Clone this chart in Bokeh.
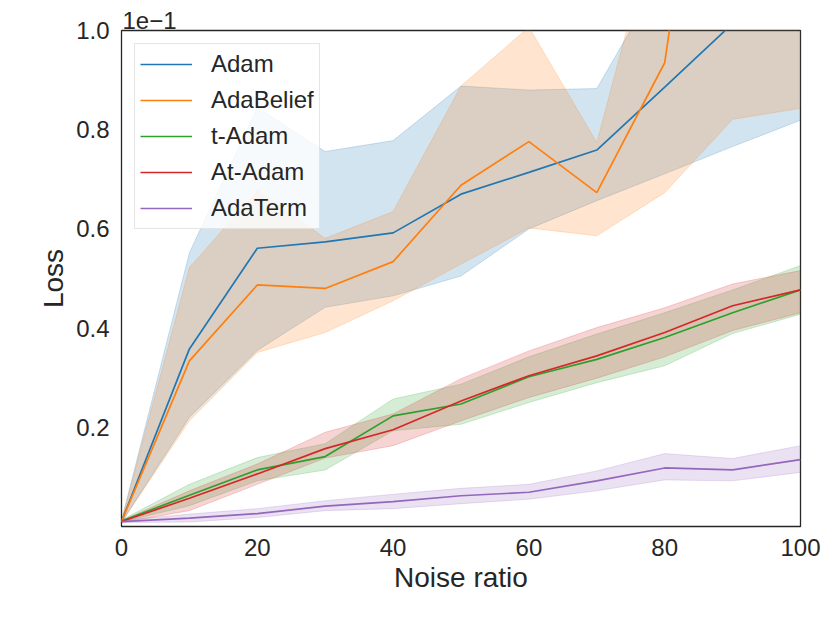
from bokeh.plotting import figure
from bokeh.models import Range1d, FixedTicker, Legend, LegendItem
from bokeh.embed import file_html
from bokeh.resources import INLINE

x = [0, 10, 20, 30, 40, 50, 60, 70, 80, 90, 100]

adam_mean = [0.010, 0.358, 0.561, 0.574, 0.592, 0.670, 0.714, 0.759, 0.886, 1.014, 1.12]
adam_up = [0.012, 0.552, 0.845, 0.756, 0.778, 0.888, 0.880, 0.883, 1.12, 1.25, 1.35]
adam_lo = [0.008, 0.220, 0.355, 0.442, 0.465, 0.505, 0.600, 0.657, 0.711, 0.766, 0.819]

adab_mean = [0.010, 0.334, 0.487, 0.480, 0.534, 0.688, 0.776, 0.673, 0.935, 1.87, 1.75]
adab_up = [0.012, 0.522, 0.677, 0.581, 0.635, 0.888, 1.007, 0.774, 1.29, 2.9, 2.6]
adab_lo = [0.008, 0.213, 0.351, 0.391, 0.455, 0.529, 0.602, 0.586, 0.673, 0.821, 0.843]

tadam_mean = [0.011, 0.063, 0.114, 0.141, 0.223, 0.247, 0.302, 0.337, 0.381, 0.431, 0.477]
tadam_up = [0.013, 0.085, 0.139, 0.167, 0.257, 0.287, 0.342, 0.388, 0.431, 0.477, 0.526]
tadam_lo = [0.009, 0.042, 0.092, 0.114, 0.193, 0.206, 0.250, 0.290, 0.324, 0.389, 0.428]

atadam_mean = [0.010, 0.057, 0.106, 0.157, 0.195, 0.253, 0.304, 0.344, 0.391, 0.445, 0.477]
atadam_up = [0.012, 0.072, 0.126, 0.190, 0.227, 0.298, 0.354, 0.401, 0.441, 0.489, 0.516]
atadam_lo = [0.008, 0.032, 0.085, 0.138, 0.163, 0.213, 0.260, 0.299, 0.342, 0.395, 0.431]

adaterm_mean = [0.010, 0.017, 0.026, 0.041, 0.050, 0.062, 0.069, 0.092, 0.118, 0.114, 0.135]
adaterm_up = [0.012, 0.025, 0.036, 0.052, 0.065, 0.077, 0.085, 0.112, 0.147, 0.137, 0.163]
adaterm_lo = [0.008, 0.009, 0.018, 0.032, 0.036, 0.046, 0.055, 0.072, 0.094, 0.092, 0.109]

names = ["Adam", "AdaBelief", "t-Adam", "At-Adam", "AdaTerm"]
colors = ["#1f77b4", "#ff7f0e", "#2ca02c", "#d62728", "#9467bd"]
series = [
    (adam_mean, adam_up, adam_lo),
    (adab_mean, adab_up, adab_lo),
    (tadam_mean, tadam_up, tadam_lo),
    (atadam_mean, atadam_up, atadam_lo),
    (adaterm_mean, adaterm_up, adaterm_lo),
]
y_ticks = [0.2, 0.4, 0.6, 0.8, 1.0]
x_ticks = [0, 20, 40, 60, 80, 100]

FONT = "Liberation Sans"
TXT = "#262626"

p = figure(width=822, height=615, output_backend="svg", toolbar_location=None,
           x_range=Range1d(0, 100), y_range=Range1d(0, 1.0),
           min_border_left=121, min_border_right=22, min_border_top=30,
           min_border_bottom=89, title="1e\u22121")
p.title.text_font = FONT
p.title.text_font_size = "24px"
p.title.text_font_style = "normal"
p.title.text_color = TXT
p.title.align = "left"
p.title.offset = 1
p.title.standoff = 4
p.grid.visible = False
p.outline_line_color = TXT
p.outline_line_width = 1.3
p.background_fill_color = "white"

for col, (m, up, lo) in zip(colors, series):
    p.varea(x=x, y1=lo, y2=up, fill_color=col, fill_alpha=0.2)
    p.line(x, up, line_color=col, line_alpha=0.2, line_width=1)
    p.line(x, lo, line_color=col, line_alpha=0.2, line_width=1)

items = []
for name, col, (m, up, lo) in zip(names, colors, series):
    r = p.line(x, m, line_color=col, line_width=1.7)
    items.append(LegendItem(label=name, renderers=[r]))

legend = Legend(items=items, location="top_left", margin=13, padding=5,
                spacing=6, glyph_width=52, glyph_height=30, label_height=30,
                label_standoff=19, label_text_font=FONT,
                label_text_font_size="24px", label_text_color=TXT,
                background_fill_color="white", background_fill_alpha=0.8,
                border_line_color="#cccccc", border_line_width=1)
p.add_layout(legend)

for ax in (p.xaxis, p.yaxis):
    ax.axis_line_color = None
    ax.major_tick_line_color = None
    ax.minor_tick_line_color = None
    ax.major_tick_out = 0
    ax.major_tick_in = 0
    ax.major_label_text_font = FONT
    ax.major_label_text_font_size = "24px"
    ax.major_label_text_color = TXT
    ax.axis_label_text_font = FONT
    ax.axis_label_text_font_size = "28px"
    ax.axis_label_text_color = TXT
    ax.axis_label_text_font_style = "normal"

p.xaxis.ticker = FixedTicker(ticks=x_ticks)
p.yaxis.ticker = FixedTicker(ticks=y_ticks)
p.yaxis.major_label_overrides = {v: f"{v:.1f}" for v in y_ticks}
p.xaxis.axis_label = "Noise ratio"
p.yaxis.axis_label = "Loss"
p.xaxis.major_label_standoff = 12
p.yaxis.major_label_standoff = 12
p.xaxis.axis_label_standoff = 3
p.yaxis.axis_label_standoff = 4

open("out.html", "w").write(file_html(p, INLINE))
